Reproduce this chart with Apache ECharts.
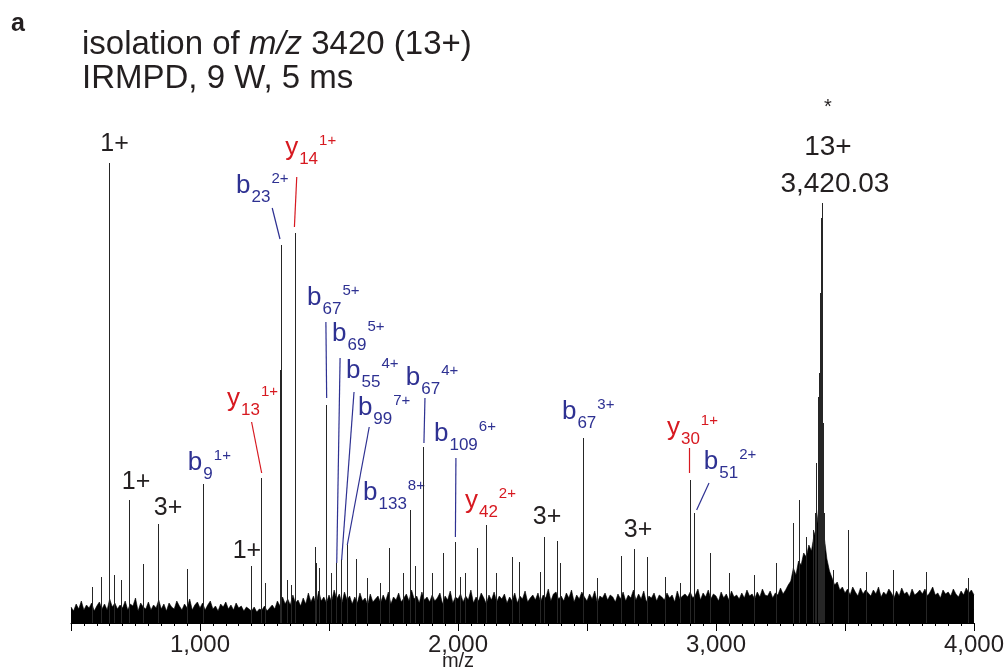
<!DOCTYPE html>
<html>
<head>
    <meta charset="utf-8">
    <title>IRMPD m/z 3420</title>
    <script src="https://cdn.jsdelivr.net/npm/echarts@6/dist/echarts.min.js"></script>
    <style>
        * {
            margin: 0;
            padding: 0
        }

        html, body {
            width: 100%;
            height: 100%;
            background: #fff;
        }

        #main {
            width: 1007px;
            height: 671px;
        }
    </style>
</head>
<body>
<div id="main"></div>
<script type="text/javascript">
    /*-------------------- data --------------------*/
    // noise floor, one value every 10 m/z from 500 to 4000
    var noiseStart = 500;
    var noiseStep = 10;
    var noise = [
        16, 12, 19, 14, 22, 13, 18, 15, 20, 12,
        17, 21, 14, 19, 13, 24, 16, 20, 14, 18,
        15, 22, 13, 19, 17, 25, 12, 20, 16, 14,
        21, 13, 18, 15, 23, 14, 19, 12, 20, 16,
        14, 22, 17, 13, 19, 15, 24, 13, 18, 21,
        15, 20, 13, 18, 22, 14, 17, 12, 19, 16,
        21, 14, 18, 13, 20, 15, 17, 12, 16, 14,
        12, 16, 11, 14, 13, 17, 12, 15, 18, 14,
        22, 17, 26, 19, 24, 18, 28, 20, 23, 17,
        25, 19, 30, 21, 27, 18, 32, 22, 26, 20,
        28, 21, 33, 24, 29, 20, 31, 23, 27, 19,
        26, 20, 30, 22, 25, 18, 29, 21, 24, 27,
        20, 28, 22, 31, 19, 26, 23, 30, 21, 25,
        29, 22, 33, 24, 27, 20, 31, 23, 26, 21,
        28, 22, 25, 30, 19, 27, 23, 32, 20, 26,
        24, 29, 21, 27, 23, 33, 20, 26, 22, 30,
        25, 19, 28, 23, 31, 21, 27, 24, 29, 20,
        26, 22, 30, 20, 27, 24, 32, 21, 25, 28,
        23, 30, 21, 28, 25, 34, 22, 29, 31, 24,
        27, 22, 30, 25, 33, 21, 28, 24, 31, 26,
        22, 29, 24, 32, 20, 27, 25, 30, 23, 28,
        26, 21, 29, 24, 31, 22, 28, 25, 33, 23,
        29, 24, 32, 21, 27, 25, 30, 22, 28, 26,
        23, 30, 25, 28, 21, 32, 24, 27, 29, 26,
        31, 25, 28, 34, 23, 30, 26, 33, 24, 29,
        27, 22, 31, 25, 29, 23, 32, 26, 28, 24,
        30, 25, 33, 27, 29, 24, 31, 26, 34, 28,
        27, 32, 25, 30, 28, 35, 29, 33, 38, 42,
        55, 48, 62, 58, 70, 66, 78, 72, 88, 96,
        120, 110, 85, 64, 52, 45, 38, 41, 33, 36,
        30, 34, 28, 36, 31, 27, 35, 29, 33, 30,
        27, 33, 29, 36, 26, 31, 28, 34, 30, 25,
        32, 27, 35, 29, 31, 26, 34, 28, 30, 33,
        29, 34, 27, 31, 36, 28, 30, 25, 33, 29,
        31, 27, 34, 29, 26, 32, 28, 35, 30, 33,
        28
    ];

    // sticks above the noise
    var peakMz = [581, 619, 648, 650, 667, 694, 725, 780, 837, 951, 1013, 1198, 1238, 1252,
        1310, 1312, 1314, 1340, 1355, 1368, 1446, 1452, 1462, 1491, 1510, 1527, 1547, 1572,
        1607, 1650, 1700, 1732, 1787, 1814, 1833, 1865, 1900, 1943, 1990, 2008, 2030, 2075,
        2111, 2150, 2211, 2236, 2318, 2334, 2386, 2395, 2485, 2540, 2632, 2684, 2735, 2802,
        2860, 2899, 2915, 2979, 3050, 3150, 3235, 3298, 3323, 3351, 3376, 3385, 3390, 3395,
        3400, 3403, 3405, 3407, 3409, 3410, 3411, 3412, 3413, 3416, 3420, 3453, 3513, 3584,
        3686, 3814, 3977];
    var peakHeight = [36, 46, 460, 253, 48, 43, 123, 59, 99, 54, 139, 57, 145, 40,
        253, 171, 378, 43, 38, 390, 76, 60, 55, 218, 50, 60, 64, 78,
        64, 45, 40, 75, 50, 113, 57, 176, 50, 70, 81, 46, 50, 75,
        98, 50, 66, 61, 51, 86, 82, 60, 185, 45, 67, 74, 66, 46,
        40, 143, 110, 70, 50, 48, 60, 100, 123, 86, 93, 110, 160, 226,
        250, 290, 330, 380, 405, 420, 415, 395, 350, 200, 110, 53, 93, 51,
        53, 51, 45];

    // fragment labels: letter, subscript, superscript, colour, anchor (left, middle)
    var ionMain = ['b', 'y', 'b', 'b', 'b', 'b', 'b', 'b', 'b', 'y', 'y', 'b', 'b', 'y', 'b'];
    var ionSub = ['23', '14', '67', '69', '55', '99', '67', '109', '133', '42', '13', '9', '67', '30', '51'];
    var ionSup = ['2+', '1+', '5+', '5+', '4+', '7+', '4+', '6+', '8+', '2+', '1+', '1+', '3+', '1+', '2+'];
    var ionColor = ['b', 'r', 'b', 'b', 'b', 'b', 'b', 'b', 'b', 'r', 'r', 'b', 'b', 'r', 'b'];
    var ionMz = [1140, 1330, 1415, 1512, 1566, 1612, 1798, 1907, 1632, 2027, 1105, 953, 2403, 2810, 2953];
    var ionH = [437, 475, 325, 289, 252, 215, 245, 189, 130, 122, 224, 160, 211, 195, 161];

    // leader lines from label to peak
    var leaderFrom = [[1280, 415], [1375, 446], [1488, 301], [1543, 265], [1597, 231], [1656, 196],
        [1872, 225], [1992, 165], [1200, 201], [2897, 175], [2973, 140]];
    var leaderTo = [[1310, 384], [1366, 396], [1491, 225], [1530, 60], [1549, 63], [1571, 78],
        [1868, 180], [1990, 86], [1239, 150], [2897, 150], [2925, 113]];
    var leaderColor = ['b', 'r', 'b', 'b', 'b', 'b', 'b', 'b', 'r', 'r', 'b'];

    // plain black labels (centred)
    var plainText = ['1+', '1+', '3+', '1+', '3+', '3+', '*', '13+', '3,420.03'];
    var plainMz = [669, 752, 876, 1182, 2345, 2698, 3434, 3434, 3461];
    var plainH = [479, 141, 115, 72, 106, 93, 516, 476, 439];
    var plainSize = [25, 25, 25, 25, 25, 25, 20, 28, 28];

    /*-------------------- chart --------------------*/
    var FONT = '"Liberation Sans", Arial, Helvetica, sans-serif';
    var INK = '#231f20';
    var BLUE = '#2e3192';
    var RED = '#d71920';
    function col(c) { return c === 'r' ? RED : BLUE; }

    var noiseData = [];
    for (var i = 0; i < noise.length; i++) {
        noiseData.push([noiseStart + i * noiseStep, noise[i]]);
    }
    var stickData = [];
    for (var j = 0; j < peakMz.length; j++) {
        stickData.push({coords: [[peakMz[j], 0], [peakMz[j], peakHeight[j]]]});
    }
    var leaderData = [];
    for (var k = 0; k < leaderFrom.length; k++) {
        leaderData.push({coords: [leaderFrom[k], leaderTo[k]], lineStyle: {color: col(leaderColor[k])}});
    }

    var myChart = echarts.init(document.getElementById('main'), null, {renderer: 'canvas'});
    myChart.setOption({
        animation: false,
        backgroundColor: '#fff',
        title: {
            left: 82,
            top: 28,
            padding: 0,
            text: '{n|isolation of }{i|m/z}{n| 3420 (13+)}\n{n|IRMPD, 9 W, 5 ms}',
            textStyle: {
                fontWeight: 'normal',
                rich: {
                    n: {fontSize: 33, fontFamily: FONT, fontWeight: 'normal', color: INK, lineHeight: 34},
                    i: {fontSize: 33, fontFamily: FONT, fontWeight: 'normal', fontStyle: 'italic', color: INK, lineHeight: 34}
                }
            }
        },
        grid: {left: 71, right: 33, top: 100, bottom: 48, containLabel: false},
        xAxis: {
            type: 'value',
            min: 500,
            max: 4000,
            interval: 500,
            splitLine: {show: false},
            axisLine: {lineStyle: {color: '#000', width: 1}},
            axisTick: {length: 8, lineStyle: {color: '#000'}},
            minorTick: {show: true, splitNumber: 10, length: 3, lineStyle: {color: '#000'}},
            axisLabel: {
                margin: 10,
                fontSize: 24,
                fontFamily: FONT,
                color: INK,
                formatter: function (v) {
                    return (v % 1000 === 0) ? v.toLocaleString('en-US') : '';
                }
            }
        },
        yAxis: {
            type: 'value',
            min: 0,
            max: 523,
            show: false
        },
        series: [
            {
                type: 'line',
                data: noiseData,
                symbol: 'none',
                lineStyle: {color: '#000', width: 0.6},
                areaStyle: {color: '#000', opacity: 1},
                z: 1
            },
            {
                type: 'lines',
                coordinateSystem: 'cartesian2d',
                data: stickData,
                lineStyle: {color: '#262626', width: 1, opacity: 1},
                z: 2
            },
            {
                type: 'lines',
                coordinateSystem: 'cartesian2d',
                data: leaderData,
                lineStyle: {width: 1.2, opacity: 1},
                z: 3
            }
        ]
    });

    // text annotations placed through the axes
    var ctx = document.createElement('canvas').getContext('2d');
    function textWidth(t, size) {
        ctx.font = size + 'px ' + FONT;
        return ctx.measureText(t).width;
    }
    function txt(x, y, t, size, color, align, weight) {
        return {
            type: 'text', x: x, y: y,
            style: {
                text: t, fontSize: size, fontFamily: FONT, fontWeight: weight || 'normal',
                fill: color, align: align, verticalAlign: 'middle'
            }
        };
    }

    var g = [];
    g.push(txt(11, 24, 'a', 25, INK, 'left', 'bold'));
    var mzPos = myChart.convertToPixel('grid', [2000, 0]);
    g.push(txt(mzPos[0], 661, 'm/z', 20, INK, 'center'));

    for (var a = 0; a < ionMain.length; a++) {
        var p = myChart.convertToPixel('grid', [ionMz[a], ionH[a]]);
        var c = col(ionColor[a]);
        var wMain = textWidth(ionMain[a], 26);
        var wSub = textWidth(ionSub[a], 17);
        g.push(txt(p[0], p[1], ionMain[a], 26, c, 'left'));
        g.push(txt(p[0] + wMain + 1, p[1] + 11, ionSub[a], 17, c, 'left'));
        g.push(txt(p[0] + wMain + wSub + 2, p[1] - 7, ionSup[a], 15, c, 'left'));
    }

    for (var b = 0; b < plainText.length; b++) {
        var q = myChart.convertToPixel('grid', [plainMz[b], plainH[b]]);
        g.push(txt(q[0], q[1], plainText[b], plainSize[b], INK, 'center'));
    }

    myChart.setOption({graphic: g});
</script>
</body>
</html>
